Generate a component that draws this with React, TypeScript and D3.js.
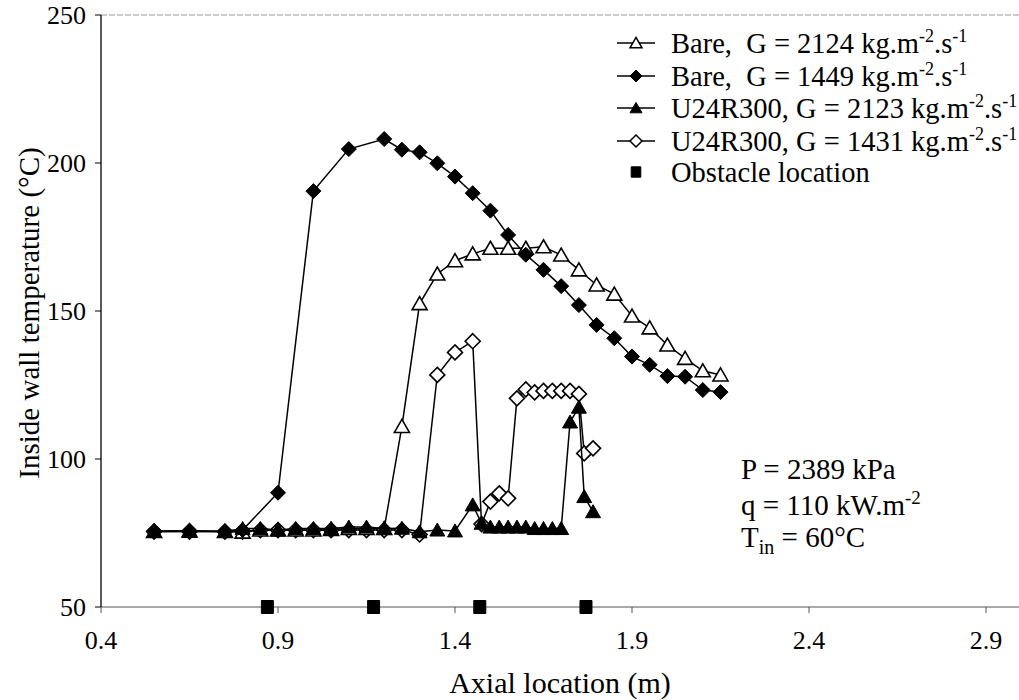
import React from "react";
import * as d3 from "d3";

// ---- data ----
const xBare2124 = [0.55,0.65,0.75,0.80,0.85,0.90,0.95,1.00,1.05,1.10,1.15,1.20,1.25,1.30,1.35,1.40,1.45,1.50,1.55,1.60,1.65,1.70,1.75,1.80,1.85,1.90,1.95,2.00,2.05,2.10,2.15];
const tBare2124 = [75.5,75.7,75.5,75.3,76,76,76,76,76.2,76.5,76.5,76.5,111,152.5,162.5,167,169.3,171.2,171.2,171.2,171.7,168.9,163.9,158.8,155.7,148.3,144.3,138.5,134,129.8,128.4];

const xBare1449 = [0.55,0.65,0.75,0.80,0.90,1.00,1.10,1.20,1.25,1.30,1.35,1.40,1.45,1.50,1.55,1.60,1.65,1.70,1.75,1.80,1.85,1.90,1.95,2.00,2.05,2.10,2.15];
const tBare1449 = [75.7,75.8,75.5,76,88.6,190.5,204.7,208.1,204.5,203.6,199.9,195.4,189.8,183.9,175.7,169,163.9,158.4,152,145.3,140.8,134.6,131.8,128,127.8,123.3,122.6];

const xU24 = [0.55,0.65,0.75,0.80,0.85,0.90,0.95,1.00,1.05,1.10,1.15,1.20,1.25,1.30,1.35,1.40,1.45,1.475,1.50,1.525,1.55,1.575,1.60,1.625,1.65,1.675,1.70,1.725,1.75,1.765,1.79];
const tU24_2123 = [75.5,75.5,75.5,76.5,76.5,76,76.5,76.5,76.5,77,77,76.5,76.6,75.4,76,75.7,84.5,78.3,77,77,77,77,77,76.5,76.5,76.5,76.5,112.5,117.5,87.3,82.2];
const tU24_1431 = [75.5,75.5,75.5,75.5,76,76,76,76,76,76,76,76,76,74.5,128.4,136,139.8,78,85.6,88.4,86.7,120.5,123.5,122.5,123,123,123,123,122,101.9,103.6];

const obstacleX = [0.87, 1.17, 1.47, 1.77];
const obstacleT = [50, 50, 50, 50];

const xTicks = [0.4, 0.9, 1.4, 1.9, 2.4, 2.9];
const yTicks = [50, 100, 150, 200, 250];

type Marker = "triOpen" | "diaFilled" | "triFilled" | "diaOpen" | "square";

const legendItems: { label: string; mass: string; marker: Marker; line: boolean }[] = [
  { label: "Bare,  G = ", mass: "2124", marker: "triOpen", line: true },
  { label: "Bare,  G = ", mass: "1449", marker: "diaFilled", line: true },
  { label: "U24R300, G = ", mass: "2123", marker: "triFilled", line: true },
  { label: "U24R300, G = ", mass: "1431", marker: "diaOpen", line: true },
  { label: "Obstacle location", mass: "", marker: "square", line: false },
];

const W = 1019, H = 700;
const x = d3.scaleLinear().domain([0.4, 3.0]).range([101, 1021.4]);
const y = d3.scaleLinear().domain([50, 250]).range([607, 15]);

const FONT =
  '"Liberation Serif", Tinos, "Times New Roman", Times, "DejaVu Serif", serif';
const txt: React.CSSProperties = { fontFamily: FONT, whiteSpace: "pre" };

function markerPath(m: Marker, cx: number, cy: number, s = 1): string {
  if (m === "triOpen" || m === "triFilled") {
    const hw = 7.5 * s, up = 7 * s, dn = 6 * s;
    return `M${cx},${cy - up}L${cx + hw},${cy + dn}L${cx - hw},${cy + dn}Z`;
  }
  if (m === "diaFilled" || m === "diaOpen") {
    const r = 7.5 * s;
    return `M${cx},${cy - r}L${cx + r},${cy}L${cx},${cy + r}L${cx - r},${cy}Z`;
  }
  const hw = 6 * s, hh = 6.5 * s;
  return `M${cx - hw},${cy - hh}H${cx + hw}V${cy + hh}H${cx - hw}Z`;
}

function isOpen(m: Marker) {
  return m === "triOpen" || m === "diaOpen";
}

function Series({ xs, ts, marker, line }: { xs: number[]; ts: number[]; marker: Marker; line: boolean }) {
  const pts = xs.map((v, i) => [x(v), y(ts[i])] as [number, number]);
  const path = d3.line()(pts) || "";
  return (
    <g>
      {line && <path d={path} fill="none" stroke="#000" strokeWidth={1.5} />}
      {pts.map((p, i) => (
        <path
          key={i}
          d={markerPath(marker, p[0], p[1])}
          fill={isOpen(marker) ? "#fff" : "#000"}
          stroke="#000"
          strokeWidth={isOpen(marker) ? 1.6 : 1}
        />
      ))}
    </g>
  );
}

export default function App() {
  const legendY = [43, 76, 108, 141, 172];
  const annY = [469, 505, 537];
  return (
    <svg
      width={W}
      height={H}
      style={{ position: "absolute", left: 0, top: 0, background: "#fff", fontFamily: FONT }}
    >
      <rect x={0} y={0} width={W} height={H} fill="#fff" />
      {/* frame */}
      <line x1={101} y1={15} x2={W} y2={15} stroke="#999" strokeWidth={1} strokeDasharray="6,2" />
      <line x1={101} y1={607} x2={W} y2={607} stroke="#555" strokeWidth={1.2} />
      <line x1={101} y1={15} x2={101} y2={607} stroke="#000" strokeWidth={1.3} />

      {/* y ticks */}
      {yTicks.map((t) => (
        <g key={t}>
          <line x1={95} x2={101} y1={y(t)} y2={y(t)} stroke="#000" strokeWidth={1} />
          <text x={86} y={y(t)} dy="0.35em" textAnchor="end" fontSize={26} style={txt}>
            {t}
          </text>
        </g>
      ))}
      {/* x ticks */}
      {xTicks.map((t) => (
        <g key={t}>
          <line x1={x(t)} x2={x(t)} y1={607} y2={613} stroke="#555" strokeWidth={1} />
          <text x={x(t)} y={640} dy="0.35em" textAnchor="middle" fontSize={26} style={txt}>
            {t.toFixed(1)}
          </text>
        </g>
      ))}

      {/* axis titles */}
      <text x={560} y={682} dy="0.35em" textAnchor="middle" fontSize={30} style={txt}>
        Axial location (m)
      </text>
      <text
        transform={`translate(29,313) rotate(-90)`}
        textAnchor="middle"
        dy="0.35em"
        fontSize={29}
        style={txt}
      >
        Inside wall temperature (°C)
      </text>

      {/* series */}
      <Series xs={xU24} ts={tU24_1431} marker="diaOpen" line={true} />
      <Series xs={xBare2124} ts={tBare2124} marker="triOpen" line={true} />
      <Series xs={xBare1449} ts={tBare1449} marker="diaFilled" line={true} />
      <Series xs={xU24} ts={tU24_2123} marker="triFilled" line={true} />
      <Series xs={obstacleX} ts={obstacleT} marker="square" line={false} />

      {/* legend */}
      {legendItems.map((it, i) => (
        <g key={i}>
          {it.line && (
            <line x1={617} x2={655} y1={legendY[i]} y2={legendY[i]} stroke="#000" strokeWidth={1.5} />
          )}
          <path
            d={markerPath(it.marker, 636, legendY[i], 0.8)}
            fill={isOpen(it.marker) ? "#fff" : "#000"}
            stroke="#000"
            strokeWidth={isOpen(it.marker) ? 1.5 : 1}
          />
          <text x={671} y={legendY[i]} dy="0.35em" fontSize={28.5} style={txt}>
            {it.mass ? (
              <>
                <tspan>{it.label + it.mass + " kg.m"}</tspan>
                <tspan dy={-11} fontSize={18}>-2</tspan>
                <tspan dy={11}>.s</tspan>
                <tspan dy={-11} fontSize={18}>-1</tspan>
              </>
            ) : (
              it.label
            )}
          </text>
        </g>
      ))}

      {/* annotation */}
      <text x={741} y={annY[0]} dy="0.35em" fontSize={29} style={txt}>P = 2389 kPa</text>
      <text x={741} y={annY[1]} dy="0.35em" fontSize={29} style={txt}>
        <tspan>q = 110 kW.m</tspan>
        <tspan dy={-11} fontSize={19}>-2</tspan>
      </text>
      <text x={741} y={annY[2]} dy="0.35em" fontSize={29} style={txt}>
        <tspan>T</tspan>
        <tspan dy={7} fontSize={20}>in</tspan>
        <tspan dy={-7}> = 60°C</tspan>
      </text>
    </svg>
  );
}
